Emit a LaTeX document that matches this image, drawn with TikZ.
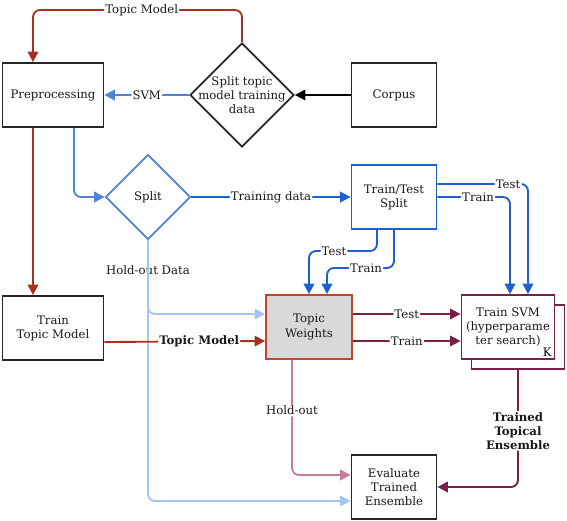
\documentclass[tikz,border=0pt]{standalone}
\usepackage{fontspec}
\setmainfont{DejaVu Serif}
\usetikzlibrary{
    arrows.meta,
    shapes.geometric,
    positioning
}
\definecolor{tmred}{HTML}{A8301C}
\definecolor{twred}{HTML}{C4452A}
\definecolor{svmblue}{HTML}{4F82DC}
\definecolor{splitblue}{HTML}{1E5DD2}
\definecolor{holdblue}{HTML}{A7C5F2}
\definecolor{holdpink}{HTML}{C67C9A}
\definecolor{ensred}{HTML}{76204A}
\definecolor{twfill}{HTML}{D9D9D9}
\tikzset{procbox/.style={draw=black!85, line width=1.5pt, fill=white, minimum width=3.03cm, minimum height=1.92cm, align=center, text=black!90, inner sep=2pt}}
\tikzset{decide/.style={diamond, aspect=1, draw=black!85, line width=1.5pt, inner sep=0pt, align=center, text=black!90}}
\tikzset{lbl/.style={fill=white, inner sep=1pt, text=black!90}}
\tikzset{link/.style={line width=1.6pt, rounded corners=6pt, -{Triangle[length=9pt, width=9pt]}}}

\begin{document}
\begin{tikzpicture}[x=0.03cm, y=-0.03cm, font=\fontsize{10}{12}\selectfont]
                        \useasboundingbox (0,0) rectangle (567,520);

                        \node[procbox] (pre) at (53,95) {Preprocessing};
                        \node[decide, minimum size=3.12cm] (stm) at (242,95) {};
                        \node[procbox, minimum width=2.55cm] (corpus) at (394,95) {Corpus};
                        \node[decide, draw=svmblue, minimum size=2.55cm] (split) at (148,197) {Split};
                        \node[procbox, draw=splitblue, minimum width=2.55cm] (tts) at (394,197) {Train/Test\\Split};
                        \node[procbox] (ttm) at (53,328) {Train\\Topic Model};
                        \node[procbox, draw=twred, fill=twfill, minimum width=2.58cm] (tw) at (309,327) {Topic\\Weights};
                        \node[procbox, draw=ensred, minimum width=2.79cm] (svmback) at (518,337) {};
                        \node[procbox, draw=ensred, minimum width=2.79cm] (svm) at (508,327) {Train SVM\\(hyperparame\\ter search)};
                        \node[procbox, minimum width=2.55cm] (eval) at (394,487) {Evaluate\\Trained\\Ensemble};

                        \node[align=center, text=black!90] at (stm) {Split topic\\model training\\data};
                        \node[anchor=south east, inner sep=3pt] at (svm.south east) {K};

                        \draw[link, draw=black] (corpus) -- (stm);
                        \draw[link, draw=svmblue] (stm) -- node[lbl]{SVM} (pre);
                        \draw[link, draw=tmred] (stm.north) |- node[lbl, pos=0.74]{Topic Model} (33,10) -- ([xshift=-0.6cm]pre.north);
                        \draw[link, draw=tmred] ([xshift=-0.6cm]pre.south) -- ([xshift=-0.6cm]ttm.north);
                        \draw[link, draw=svmblue] ([xshift=0.63cm]pre.south) |- (split.west);
                        \draw[link, draw=splitblue] (split) -- node[lbl]{Training data} (tts);
                        \draw[link, draw=splitblue] ([yshift=0.39cm]tts.east) -| node[lbl, pos=0.39]{Test} ([xshift=0.6cm]svm.north);
                        \draw[link, draw=splitblue] (tts.east) -| node[lbl, pos=0.28]{Train} ([xshift=0.06cm]svm.north);
                        \draw[link, draw=splitblue] ([xshift=-0.51cm]tts.south) |- (334,251) node[lbl]{Test} -| (tw.north);
                        \draw[link, draw=splitblue] (tts.south) |- (366,268) node[lbl]{Train} -| ([xshift=0.54cm]tw.north);
                        \draw[link, draw=holdblue] (split.south) |- node[lbl, pos=0.2]{Hold-out Data} ([yshift=0.39cm]tw.west);
                        \draw[link, draw=holdblue] (split.south) |- ([yshift=-0.42cm]eval.west);
                        \draw[link, draw=tmred] ([yshift=-0.42cm]ttm.east) -- node[lbl, pos=0.59, font=\bfseries]{Topic Model} ([yshift=-0.42cm]tw.west);
                        \draw[link, draw=ensred] ([yshift=0.39cm]tw.east) -- node[lbl]{Test} ([yshift=0.39cm]svm.west);
                        \draw[link, draw=ensred] ([yshift=-0.42cm]tw.east) -- node[lbl]{Train} ([yshift=-0.42cm]svm.west);
                        \draw[link, draw=holdpink] ([xshift=-0.51cm]tw.south) |- node[lbl, pos=0.22]{Hold-out} ([yshift=0.36cm]eval.west);
                        \draw[link, draw=ensred] (svmback.south) |- node[lbl, pos=0.26, align=center, font=\bfseries]{Trained\\Topical\\Ensemble} (eval.east);
                    \end{tikzpicture}
\end{document}
